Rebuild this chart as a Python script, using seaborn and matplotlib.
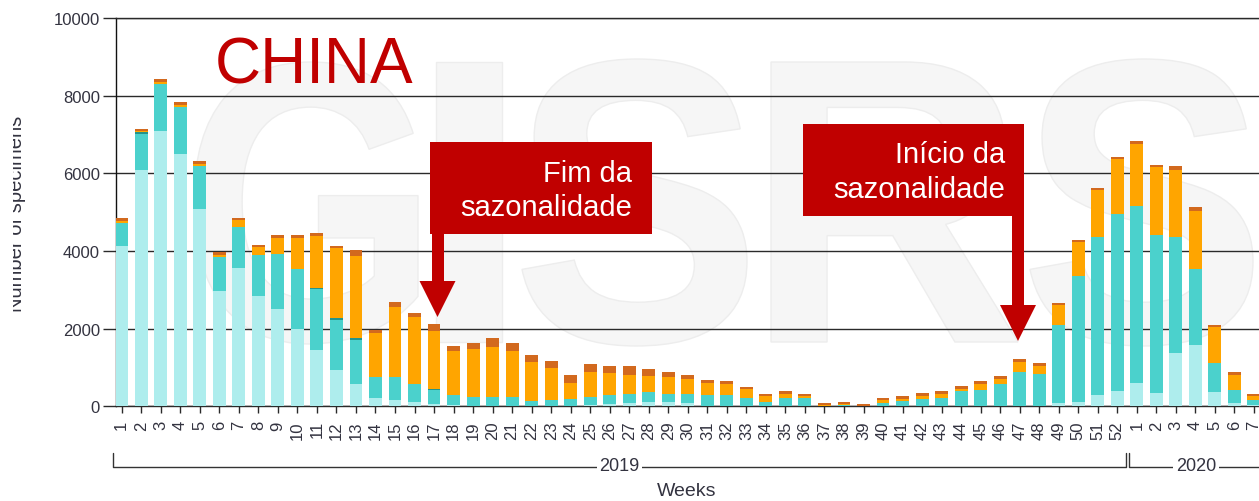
import numpy as np
import pandas as pd
import matplotlib
matplotlib.use("Agg")
import matplotlib.pyplot as plt
import seaborn as sns
from matplotlib.patches import Rectangle, Polygon, PathPatch
from matplotlib.textpath import TextPath
from matplotlib.font_manager import FontProperties
from matplotlib.transforms import Affine2D, Bbox
from matplotlib.lines import Line2D

# ---------------- data ----------------
weeks_2019 = list(range(1, 53))
weeks_2020 = list(range(1, 8))
week_labels = [str(w) for w in weeks_2019 + weeks_2020]
years = ["2019"] * len(weeks_2019) + ["2020"] * len(weeks_2020)

a_h1n1 = [4130, 6090, 7100, 6510, 5080, 2960, 3560, 2830, 2500, 1980,
          1450, 930, 575, 225, 160, 110, 50, 30, 20, 20,
          20, 10, 10, 10, 40, 70, 75, 120, 120, 75,
          10, 5, 5, 5, 5, 5, 0, 0, 0, 5,
          5, 5, 5, 5, 5, 5, 10, 10, 85, 115,
          290, 390,
          610, 330, 1385, 1590, 370, 95, 30]
a_h3 = [585, 924, 1203, 1201, 1116, 876, 1064, 1065, 1418, 1555,
        1568, 1292, 1145, 530, 593, 474, 366, 270, 220, 220,
        220, 127, 163, 189, 200, 220, 250, 240, 207, 250,
        280, 285, 215, 110, 210, 210, 15, 35, 5, 80,
        140, 180, 210, 385, 425, 565, 880, 810, 2000, 3245,
        4058, 4553,
        4537, 4088, 2972, 1941, 739, 317, 125]
a_not_subtyped = [0, 40, 0, 0, 0, 0, 0, 0, 0, 0,
                  40, 40, 40, 0, 0, 0, 40, 0, 0, 0,
                  0, 0, 0, 0, 0, 0, 0, 0, 0, 0,
                  0, 0, 0, 0, 0, 0, 0, 0, 0, 0,
                  0, 0, 0, 0, 0, 0, 0, 0, 0, 0,
                  0, 0,
                  0, 0, 0, 0, 0, 0, 0]
b_victoria = [50, 30, 50, 50, 50, 60, 173, 201, 412, 791,
              1330, 1804, 2114, 1126, 1815, 1709, 1485, 1118, 1247, 1288,
              1185, 1005, 824, 412, 644, 560, 490, 421, 420, 387,
              321, 285, 218, 150, 112, 50, 15, 35, 5, 70,
              55, 77, 105, 45, 135, 140, 255, 213, 515, 860,
              1211, 1425,
              1613, 1755, 1735, 1502, 928, 405, 110]
b_not_determined = [75, 55, 79, 79, 79, 85, 59, 64, 77, 85,
                    87, 67, 147, 78, 118, 103, 180, 136, 137, 242,
                    217, 172, 171, 196, 216, 181, 214, 173, 147, 103,
                    67, 77, 59, 62, 68, 62, 55, 43, 40, 70,
                    55, 68, 80, 75, 75, 65, 85, 85, 70, 50,
                    60, 60,
                    62, 50, 87, 88, 59, 67, 62]

y_ticks = [0, 2000, 4000, 6000, 8000, 10000]

series_names = ["A(H1N1)pdm09", "A(H3)", "A (not subtyped)", "B (Victoria)", "B (lineage not determined)"]
series_colors = ["#AEEDED", "#4BD1CC", "#23938B", "#FFA500", "#D2691E"]

keys = [f"{y}-{w}" for y, w in zip(years, week_labels)]
df = pd.DataFrame({"key": keys,
                   series_names[0]: a_h1n1,
                   series_names[1]: a_h3,
                   series_names[2]: a_not_subtyped,
                   series_names[3]: b_victoria,
                   series_names[4]: b_not_determined})
cum = df[series_names].cumsum(axis=1)

# ---------------- figure ----------------
W, H = 1259, 502
sns.set_theme(style="white")
plt.rcParams["font.family"] = ["Liberation Sans", "DejaVu Sans"]

fig = plt.figure(figsize=(W / 100, H / 100), dpi=100)
fig.patch.set_facecolor("white")


def fx(x):
    return x / W


def fy(y):
    return 1 - y / H


# faint GISRS watermark
fp = FontProperties(family="Liberation Sans", weight="bold")
wm = [("G", 194, 63, 418, 345), ("I", 436, 63, 502, 343), ("S", 522, 60, 747, 347),
      ("R", 771, 63, 1018, 343), ("S", 1030, 60, 1253, 347)]
for ch, x0, y0, x1, y1 in wm:
    tp = TextPath((0, 0), ch, size=100, prop=fp)
    ext = tp.get_extents()
    tr = (Affine2D().translate(-ext.x0, -ext.y0)
          .scale((x1 - x0) / ext.width / W, (y1 - y0) / ext.height / H)
          .translate(fx(x0), fy(y1)))
    fig.add_artist(PathPatch(tr.transform_path(tp), transform=fig.transFigure,
                             facecolor="#f6f6f6", edgecolor="#ededed", lw=1.0, zorder=-2))

y0px, y1px = 407.3, 19.0
ax = fig.add_axes([fx(116), fy(y0px), (W - 116) / W, (y0px - y1px) / H])
ax.set_facecolor("none")

for i in range(len(series_names) - 1, -1, -1):
    sns.barplot(x=df["key"], y=cum[series_names[i]].values, order=keys,
                color=series_colors[i], saturation=1, width=0.66,
                errorbar=None, linewidth=0, ax=ax, zorder=3)

ax.set_xlim(-0.292, 58.26)
ax.set_ylim(0, 10000)
ax.set_xlabel("")
ax.set_ylabel("")
ax.set_yticks(y_ticks)
ax.set_yticklabels([str(v) for v in y_ticks])
ax.set_xticks(range(len(keys)))
ax.set_xticklabels(week_labels, rotation=90)
ax.yaxis.grid(True, color="#2a2a2a", lw=1.0, zorder=1)
ax.xaxis.grid(False)
ax.set_axisbelow(True)
ax.spines["right"].set_visible(False)
for s in ["left", "bottom", "top"]:
    ax.spines[s].set_visible(True)
    ax.spines[s].set_color("#2a2a2a")
    ax.spines[s].set_linewidth(1.0)
ax.spines["left"].set_color("#111111")
ax.tick_params(axis="y", length=9.5, width=1, color="#2a2a2a", labelsize=12,
               labelcolor="#333340", pad=2, left=True)
ax.tick_params(axis="x", length=5, width=1, color="#2a2a2a", labelsize=12,
               labelcolor="#333340", pad=5, bottom=True)

# y label, clipped at the left edge as in the reference
t = fig.text(fx(22), fy(214), "Number of specimens", rotation=90, rotation_mode="anchor",
             ha="center", va="baseline", fontsize=14.5, color="#333340")
t.set_clip_box(Bbox.from_extents(13, 0, 80, H))
t.set_clip_on(True)

# year brackets
lc = "#333333"
for xs, ys in [([113, 113, 1126, 1126], [454, 468, 468, 454]),
               ([1129, 1129, 1265], [454, 468, 468])]:
    fig.add_artist(Line2D([fx(v) for v in xs], [fy(v) for v in ys],
                          transform=fig.transFigure, color=lc, lw=1.0, zorder=2))
for x, lab in [(619.5, "2019"), (1196, "2020")]:
    fig.text(fx(x), fy(467), lab, ha="center", va="center", fontsize=13, color="#333340",
             bbox=dict(facecolor="white", edgecolor="none", pad=2), zorder=3)
fig.text(fx(687), fy(492), "Weeks", ha="center", va="center", fontsize=14, color="#333340")

# title
red = "#C00000"
fig.text(fx(215), fy(84), "CHINA", ha="left", va="baseline", fontsize=46, color=red)


# annotation boxes and arrows
def box(x0, y0, x1, y1):
    fig.add_artist(Rectangle((fx(x0), fy(y1)), fx(x1) - fx(x0), fy(y0) - fy(y1),
                             transform=fig.transFigure, facecolor=red, edgecolor="none", zorder=5))


def arrow(xc, ytop, yhead, ytip, shaft_w=12, head_w=36):
    fig.add_artist(Rectangle((fx(xc - shaft_w / 2), fy(yhead + 1)), shaft_w / W,
                             (yhead + 1 - ytop) / H, transform=fig.transFigure,
                             facecolor=red, edgecolor="none", zorder=5))
    fig.add_artist(Polygon([(fx(xc - head_w / 2), fy(yhead)), (fx(xc + head_w / 2), fy(yhead)),
                            (fx(xc), fy(ytip))], closed=True, transform=fig.transFigure,
                           facecolor=red, edgecolor="none", zorder=5))


box(430, 143, 652, 235)
arrow(437.5, 234, 282, 318)
fig.text(fx(632), fy(182), "Fim da", ha="right", va="baseline", fontsize=21, color="white", zorder=6)
fig.text(fx(632), fy(216), "sazonalidade", ha="right", va="baseline", fontsize=21, color="white", zorder=6)

box(803, 125, 1024, 217)
arrow(1018, 216, 306, 342)
fig.text(fx(1005), fy(163.5), "Início da", ha="right", va="baseline", fontsize=21, color="white", zorder=6)
fig.text(fx(1005), fy(198.5), "sazonalidade", ha="right", va="baseline", fontsize=21, color="white", zorder=6)

fig.savefig("out.png", dpi=100, facecolor="white")
